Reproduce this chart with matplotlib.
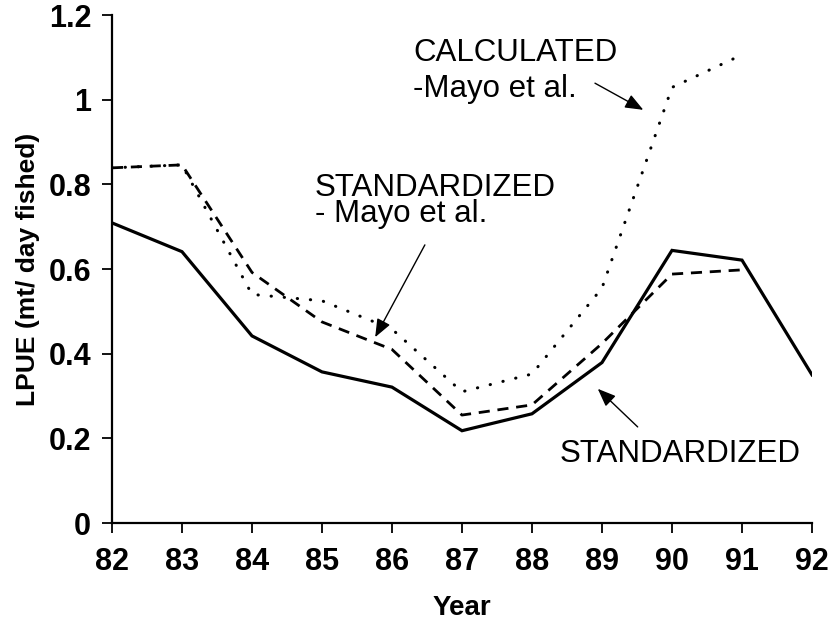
import matplotlib
matplotlib.use("Agg")
import matplotlib.pyplot as plt

plt.rcParams['font.family'] = ['Liberation Sans', 'DejaVu Sans']

# LPUE by year
years = [82, 83, 84, 85, 86, 87, 88, 89, 90, 91, 92]
standardized = [0.709, 0.641, 0.442, 0.357, 0.321, 0.218, 0.258, 0.379, 0.644, 0.621, 0.350]
std_mayo_years = [82, 83, 84, 85, 86, 87, 88, 89, 90, 91]
std_mayo = [0.839, 0.846, 0.592, 0.475, 0.410, 0.255, 0.279, 0.424, 0.588, 0.598]
calc_mayo_years = [82, 83, 84, 85, 86, 87, 88, 89, 90, 91]
calc_mayo = [0.839, 0.846, 0.540, 0.525, 0.458, 0.310, 0.352, 0.555, 1.029, 1.106]

yticks = [0, 0.2, 0.4, 0.6, 0.8, 1.0, 1.2]
ytick_labels = ['0', '0.2', '0.4', '0.6', '0.8', '1', '1.2']

fig = plt.figure(figsize=(8.3, 6.21), dpi=100)
ax = fig.add_axes([0.1349, 0.1578, 0.8434, 0.818])

ax.plot(years, standardized, color='black', lw=2.3, solid_joinstyle='miter')
ax.plot(std_mayo_years, std_mayo, color='black', lw=2.0, linestyle=(0, (4, 2.8)))
ax.plot(calc_mayo_years, calc_mayo, color='black', lw=2.2,
        linestyle=(0, (0.1, 4.2)), dash_capstyle='round')

ax.set_xlim(82, 92)
ax.set_ylim(0, 1.2)
ax.set_xticks(years)
ax.set_xticklabels([str(y) for y in years])
ax.set_yticks(yticks)
ax.set_yticklabels(ytick_labels)

for side in ['top', 'right']:
    ax.spines[side].set_visible(False)
for side in ['left', 'bottom']:
    ax.spines[side].set_linewidth(1.6)

ax.tick_params(axis='both', direction='out', length=7, width=1.3,
               labelsize=22)
ax.tick_params(axis='x', pad=10)
ax.tick_params(axis='y', pad=8)
for lbl in ax.get_xticklabels() + ax.get_yticklabels():
    lbl.set_fontweight('bold')

ax.set_xlabel('Year', fontsize=20, fontweight='bold', labelpad=13)
ax.set_ylabel('LPUE (mt/ day fished)', fontsize=19, fontweight='bold', labelpad=6)

# annotations (baseline = last line of each block)
txt = dict(fontsize=22.5, color='black', va='baseline', ha='left')
ax.text(86.3, (523 - 97) / 423.3, 'CALCULATED\n-Mayo et al.', linespacing=1.28, **txt)
ax.text(84.9, (523 - 222) / 423.3, 'STANDARDIZED\n- Mayo et al.', linespacing=0.84, **txt)
ax.text(88.4, (523 - 462) / 423.3, 'STANDARDIZED', **txt)

arrow = dict(arrowstyle='-|>,head_length=0.55,head_width=0.22', color='black',
             lw=1.0, mutation_scale=20, shrinkA=0, shrinkB=0)
ax.annotate('', xy=(89.59, 0.976), xytext=(88.9, 1.039), arrowprops=arrow)
ax.annotate('', xy=(85.76, 0.439), xytext=(86.47, 0.657), arrowprops=arrow)
ax.annotate('', xy=(88.94, 0.317), xytext=(89.51, 0.227), arrowprops=arrow)

fig.savefig('out.png', dpi=100)
